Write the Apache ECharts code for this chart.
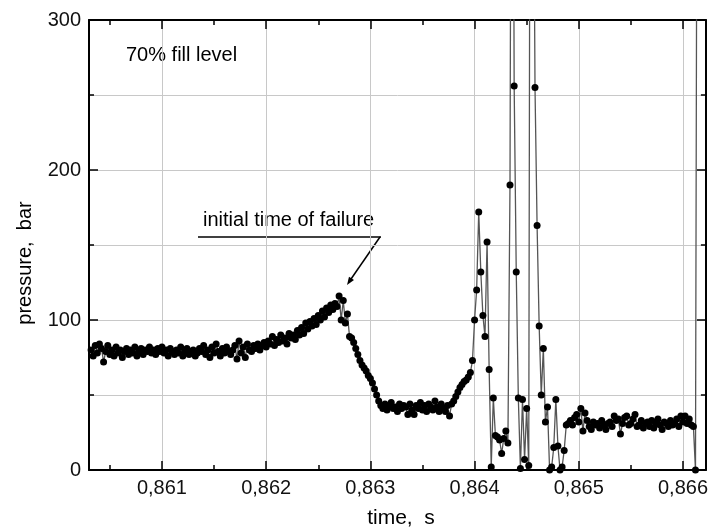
<!DOCTYPE html>
<html lang="en">
<head>
<meta charset="utf-8">
<script src="https://cdn.jsdelivr.net/npm/echarts@6.0.0/dist/echarts.min.js"></script>
<style>
  html, body { margin: 0; padding: 0; background: #fff; }
  #chartMain { width: 711px; height: 531px; }
</style>
</head>
<body>
<div id="chartMain"></div>
<script>
    // sample times, s
    var timeS = [
        0.86032,0.86034,0.86036,0.86038,0.86040,0.86042,0.86044,0.86046,0.86048,0.86050,
        0.86052,0.86054,0.86056,0.86058,0.86060,0.86062,0.86064,0.86066,0.86068,0.86070,
        0.86072,0.86074,0.86076,0.86078,0.86080,0.86082,0.86084,0.86086,0.86088,0.86090,
        0.86092,0.86094,0.86096,0.86098,0.86100,0.86102,0.86104,0.86106,0.86108,0.86110,
        0.86112,0.86114,0.86116,0.86118,0.86120,0.86122,0.86124,0.86126,0.86128,0.86130,
        0.86132,0.86134,0.86136,0.86138,0.86140,0.86142,0.86144,0.86146,0.86148,0.86150,
        0.86152,0.86154,0.86156,0.86158,0.86160,0.86162,0.86164,0.86166,0.86168,0.86170,
        0.86172,0.86174,0.86176,0.86178,0.86180,0.86182,0.86184,0.86186,0.86188,0.86190,
        0.86192,0.86194,0.86196,0.86198,0.86200,0.86202,0.86204,0.86206,0.86208,0.86210,
        0.86212,0.86214,0.86216,0.86218,0.86220,0.86222,0.86224,0.86226,0.86228,0.86230,
        0.86232,0.86234,0.86236,0.86238,0.86240,0.86242,0.86244,0.86246,0.86248,0.86250,
        0.86252,0.86254,0.86256,0.86258,0.86260,0.86262,0.86264,0.86266,0.86268,0.86270,
        0.86272,0.86274,0.86276,0.86278,0.86280,0.86282,0.86284,0.86286,0.86288,0.86290,
        0.86292,0.86294,0.86296,0.86298,0.86300,0.86302,0.86304,0.86306,0.86308,0.86310,
        0.86312,0.86314,0.86316,0.86318,0.86320,0.86322,0.86324,0.86326,0.86328,0.86330,
        0.86332,0.86334,0.86336,0.86338,0.86340,0.86342,0.86344,0.86346,0.86348,0.86350,
        0.86352,0.86354,0.86356,0.86358,0.86360,0.86362,0.86364,0.86366,0.86368,0.86370,
        0.86372,0.86374,0.86376,0.86378,0.86380,0.86382,0.86384,0.86386,0.86388,0.86390,
        0.86392,0.86394,0.86396,0.86398,0.86400,0.86402,0.86404,0.86406,0.86408,0.86410,
        0.86412,0.86414,0.86416,0.86418,0.86420,0.86422,0.86424,0.86426,0.86428,0.86430,
        0.86432,0.86434,0.86436,0.86438,0.86440,0.86442,0.86444,0.86446,0.86448,0.86450,
        0.86452,0.86454,0.86456,0.86458,0.86460,0.86462,0.86464,0.86466,0.86468,0.86470,
        0.86472,0.86474,0.86476,0.86478,0.86480,0.86482,0.86484,0.86486,0.86488,0.86490,
        0.86492,0.86494,0.86496,0.86498,0.86500,0.86502,0.86504,0.86506,0.86508,0.86510,
        0.86512,0.86514,0.86516,0.86518,0.86520,0.86522,0.86524,0.86526,0.86528,0.86530,
        0.86532,0.86534,0.86536,0.86538,0.86540,0.86542,0.86544,0.86546,0.86548,0.86550,
        0.86552,0.86554,0.86556,0.86558,0.86560,0.86562,0.86564,0.86566,0.86568,0.86570,
        0.86572,0.86574,0.86576,0.86578,0.86580,0.86582,0.86584,0.86586,0.86588,0.86590,
        0.86592,0.86594,0.86596,0.86598,0.86600,0.86602,0.86604,0.86606,0.86608,0.86610,
        0.86612,0.86614
    ];

    // pressure, bar
    var pressureBar = [
        80,76,83,78,84,81,72,79,83,77,
        80,76,82,78,80,75,79,81,77,80,
        78,82,76,79,81,77,80,79,82,78,
        80,77,81,79,82,78,80,76,81,79,
        77,80,78,82,76,79,81,77,79,80,
        76,78,81,79,83,77,80,75,82,78,
        84,79,76,81,78,82,79,77,80,83,
        74,86,78,82,75,84,80,79,83,81,
        84,80,83,85,82,86,84,89,83,87,
        85,90,86,88,84,91,88,90,87,93,
        90,95,91,98,94,99,96,101,97,103,
        100,106,102,108,105,110,107,111,109,116,
        100,113,98,104,89,88,85,81,77,73,
        70,68,66,63,61,58,54,50,46,43,
        41,44,40,43,45,41,42,39,44,41,
        43,42,37,44,40,37,43,41,45,40,
        43,39,44,42,40,46,42,39,44,41,
        39,43,36,44,46,49,52,55,57,59,
        60,62,65,73,100,120,172,132,103,89,
        152,67,2,48,23,22,20,11,21,26,
        18,190,700,256,132,48,1,47,7,41,
        3,750,500,255,163,96,50,81,32,42,
        0,2,15,47,16,0,2,13,30,31,
        33,30,35,37,32,41,26,38,33,29,
        27,32,30,31,28,33,30,27,31,32,
        29,36,33,34,24,31,35,36,30,31,
        34,37,29,30,33,28,31,32,29,33,
        28,31,34,30,27,32,31,29,33,30,
        31,34,29,36,32,36,31,34,30,29,
        0,600
    ];

    var xMin = 0.8603, xMax = 0.86622;
    var yMin = 0, yMax = 300;
    var fontName = 'Liberation Sans';

    var points = timeS.map(function (t, i) { return [t, pressureBar[i]]; });

    var frameLine = { show: true, onZero: false, lineStyle: { color: '#000', width: 2 } };
    var majorTick = { show: true, inside: true, length: 9, lineStyle: { color: '#000', width: 1.5 } };
    var minorTick = { show: true, splitNumber: 2, length: 5, lineStyle: { color: '#000', width: 1.5 } };
    var gridLine = { show: true, lineStyle: { color: '#c8c8c8', width: 1 } };

    var myChart = echarts.init(document.getElementById('chartMain'), null, { renderer: 'canvas' });

    myChart.setOption({
        animation: false,
        grid: { left: 89, right: 5, top: 20, bottom: 61 },
        xAxis: [
            {
                type: 'value', min: xMin, max: xMax, splitNumber: 6, position: 'bottom',
                axisLine: frameLine, axisTick: majorTick, minorTick: minorTick,
                splitLine: gridLine,
                axisLabel: {
                    showMinLabel: false, showMaxLabel: false, margin: 8,
                    fontSize: 20, fontFamily: fontName, color: '#111',
                    formatter: function (v) { return v.toFixed(3).replace('.', ','); }
                }
            },
            {
                type: 'value', min: xMin, max: xMax, splitNumber: 6, position: 'top',
                axisLine: frameLine, axisTick: majorTick, minorTick: minorTick,
                splitLine: { show: false }, axisLabel: { show: false }
            }
        ],
        yAxis: [
            {
                type: 'value', min: yMin, max: yMax, interval: 100, position: 'left',
                axisLine: frameLine, axisTick: majorTick, minorTick: minorTick,
                splitLine: gridLine, minorSplitLine: gridLine,
                axisLabel: { margin: 8, fontSize: 20, fontFamily: fontName, color: '#111' }
            },
            {
                type: 'value', min: yMin, max: yMax, interval: 100, position: 'right',
                axisLine: frameLine, axisTick: majorTick, minorTick: minorTick,
                splitLine: { show: false }, axisLabel: { show: false }
            }
        ],
        series: [
            {
                type: 'line',
                xAxisIndex: 0,
                yAxisIndex: 0,
                data: points,
                symbol: 'circle',
                symbolSize: 7,
                showAllSymbol: true,
                clip: true,
                itemStyle: { color: '#000' },
                lineStyle: { color: '#555', width: 1.3 }
            }
        ],
        graphic: [
            {
                type: 'text', x: 126, y: 55,
                style: { text: '70% fill level', font: '20px "Liberation Sans"', fill: '#000', align: 'left', verticalAlign: 'middle' }
            },
            {
                type: 'text', x: 203, y: 220,
                style: { text: 'initial time of failure', font: '20px "Liberation Sans"', fill: '#000', align: 'left', verticalAlign: 'middle' }
            },
            {
                type: 'line',
                shape: { x1: 198, y1: 237, x2: 381, y2: 237 },
                style: { stroke: '#000', lineWidth: 1.5 }
            },
            {
                type: 'line',
                shape: { x1: 380, y1: 237, x2: 350, y2: 280.5 },
                style: { stroke: '#000', lineWidth: 1.5 }
            },
            {
                type: 'polygon',
                shape: { points: [[347, 285], [354, 280], [349, 276.7]] },
                style: { fill: '#000' }
            },
            {
                type: 'text', x: 401, y: 518,
                style: { text: 'time,  s', font: '21px "Liberation Sans"', fill: '#000', align: 'center', verticalAlign: 'middle' }
            },
            {
                type: 'text', x: 25, y: 263, rotation: Math.PI / 2,
                style: { text: 'pressure,  bar', font: '20px "Liberation Sans"', fill: '#000', align: 'center', verticalAlign: 'middle' }
            }
        ]
    });
</script>
</body>
</html>
